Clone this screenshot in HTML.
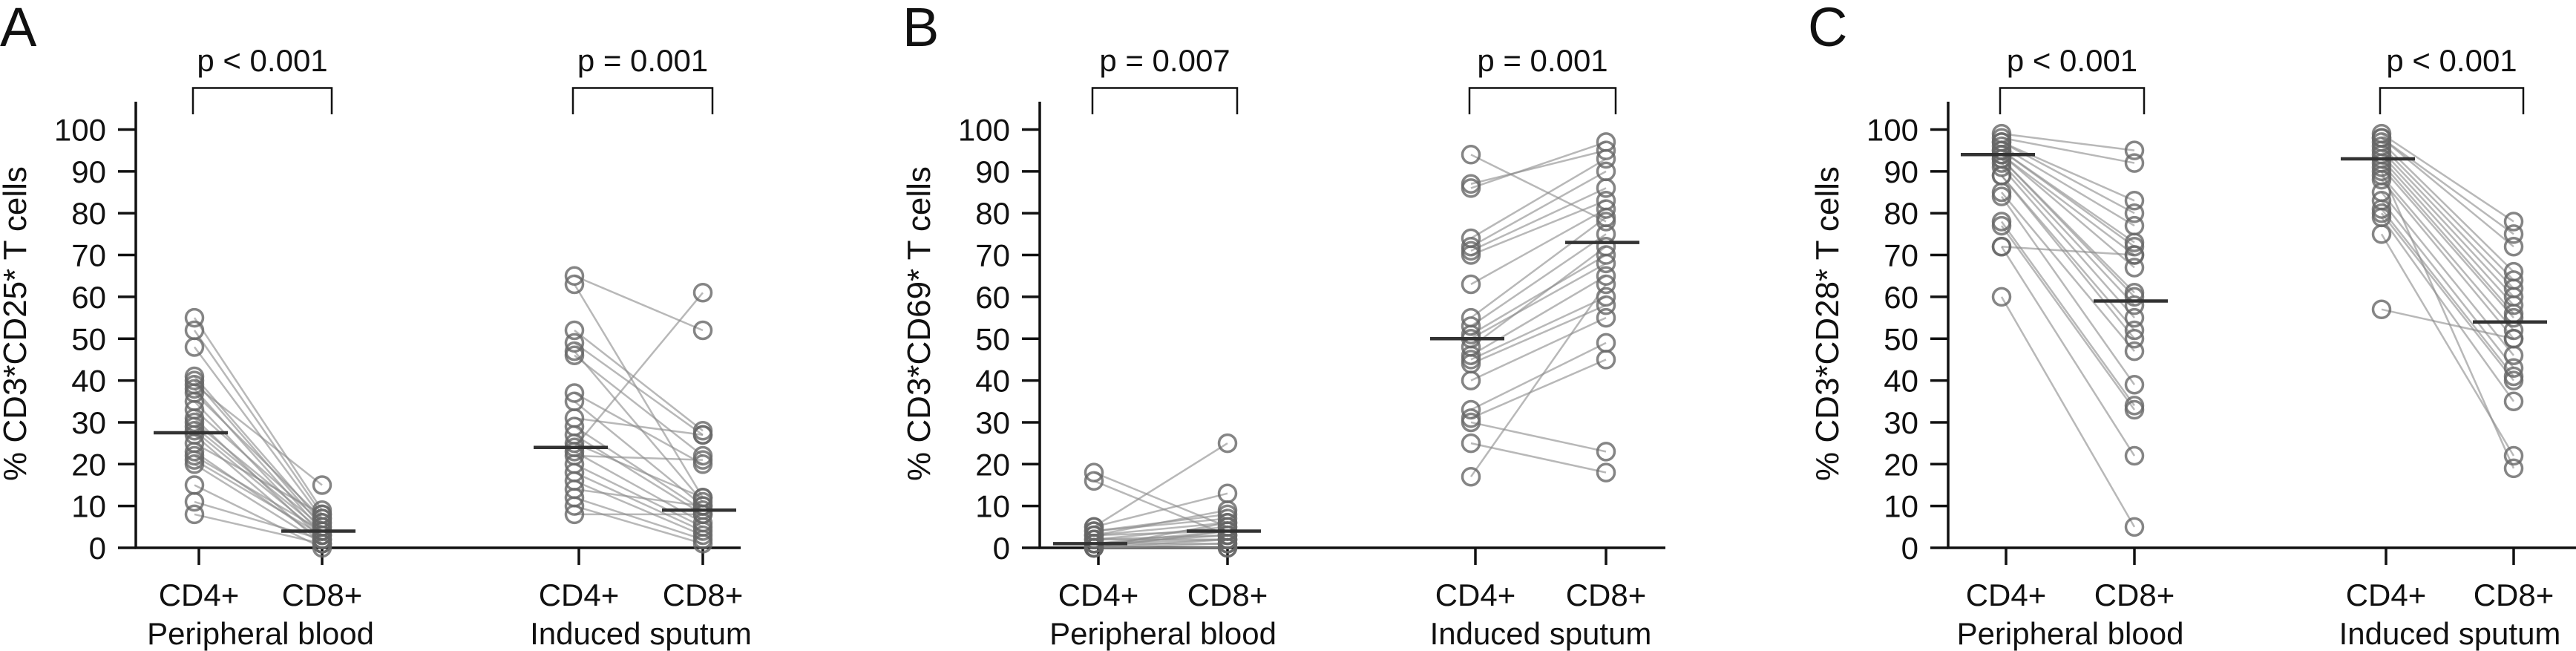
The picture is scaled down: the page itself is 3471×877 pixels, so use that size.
<!DOCTYPE html>
<html><head><meta charset="utf-8"><style>
html,body{margin:0;padding:0;background:#fff;width:3471px;height:877px;overflow:hidden}
svg{display:block}
text{font-family:"Liberation Sans",sans-serif;fill:#111}
</style></head><body>
<svg id="fig" width="3471" height="877" viewBox="0 0 3471 877" xmlns="http://www.w3.org/2000/svg"></svg>
<script>
const yTicks = [0,10,20,30,40,50,60,70,80,90,100];
const catLabels = ["CD4+","CD8+","CD4+","CD8+"];
const groupLabels = ["Peripheral blood","Induced sputum"];
const panelLetters = ["A","B","C"];
const yTitles = ["% CD3*CD25* T cells","% CD3*CD69* T cells","% CD3*CD28* T cells"];
const pLabels = [["p < 0.001","p = 0.001"],["p = 0.007","p = 0.001"],["p < 0.001","p < 0.001"]];

const A_PB_cd4 = [55,52,48,41,40,39,38,37,35,33,31,30,29,28,27,25,23,22,21,20,15,11,8];
const A_PB_cd8 = [9,8,7,6,5,15,4,7,3,6,2,5,4,3,1,8,2,4,3,1,0,2,1];
const A_IS_cd4 = [65,63,52,49,47,46,37,35,31,29,27,25,24,23,22,20,18,16,14,12,10,8];
const A_IS_cd8 = [52,12,28,27,11,22,20,10,27,9,8,12,61,6,21,5,4,3,10,2,1,8];
const B_PB_cd4 = [18,16,5,5,4,4,3,3,3,2,2,2,1,1,1,1,0,0,0,0,0,0];
const B_PB_cd8 = [5,3,25,13,8,7,9,6,4,5,3,2,4,1,2,3,1,0,2,4,6,0];
const B_IS_cd4 = [94,87,86,74,72,71,70,63,55,53,51,50,48,46,45,44,40,33,31,30,25,17];
const B_IS_cd8 = [78,95,97,93,90,86,83,81,79,75,70,68,72,65,60,58,55,49,45,23,18,63];
const C_PB_cd4 = [99,98,97,97,96,95,95,94,94,93,93,92,91,89,89,85,84,78,77,72,72,60];
const C_PB_cd8 = [95,92,83,80,77,73,72,70,67,61,60,58,55,52,50,47,39,34,33,22,70,5];
const C_IS_cd4 = [99,98,98,97,96,95,94,93,92,91,89,88,85,83,81,80,79,75,57,90];
const C_IS_cd8 = [78,75,72,66,64,62,60,58,56,55,52,50,46,43,41,40,35,22,50,19];
const medians = [[27.5,4,24,9],[1,4,50,73],[94,59,93,54]];

const panelData = [[[A_PB_cd4,A_PB_cd8],[A_IS_cd4,A_IS_cd8]],[[B_PB_cd4,B_PB_cd8],[B_IS_cd4,B_IS_cd8]],[[C_PB_cd4,C_PB_cd8],[C_IS_cd4,C_IS_cd8]]];
const layout = [
 {ax:183, xEnd:998, ticks:[268,434,780,947], letterX:0, titleX:20},
 {ax:1401, xEnd:2244, ticks:[1480,1654,1988,2164], letterX:1216, titleX:1238},
 {ax:2625, xEnd:3471, ticks:[2703,2876,3215,3387], letterX:2436, titleX:2462}
];
const Y0 = 738, Y100 = 174.5;
function yScale(v){ return Y0 + (Y100 - Y0) * v / 100; }
const NS = "http://www.w3.org/2000/svg";
const svg = document.getElementById('fig');
function mk(tag, attrs, parent){ const e=document.createElementNS(NS,tag); for(const k in attrs) e.setAttribute(k,attrs[k]); (parent||svg).appendChild(e); return e; }

layout.forEach((L,pi)=>{
  const g = mk('g',{});
  
  
  const letter = mk('text',{x:L.letterX,y:62,'font-size':74},g); letter.textContent = panelLetters[pi];
  
  
  const yax = mk('line',{x1:L.ax,y1:137,x2:L.ax,y2:Y0+1.5,stroke:'#111','stroke-width':3.5},g);
  
  
  yTicks.forEach(t=>{
    const y=yScale(t);
    mk('line',{x1:L.ax-24,y1:y,x2:L.ax,y2:y,stroke:'#111','stroke-width':3.5},g);
    const tl = mk('text',{x:L.ax-40,y:y+15,'font-size':42,'text-anchor':'end'},g); tl.textContent=t;
    
    
  });
  const xax = mk('line',{x1:L.ax-1.5,y1:Y0,x2:L.xEnd,y2:Y0,stroke:'#111','stroke-width':3.5},g);
  
  
  L.ticks.forEach((tx,i)=>{
    mk('line',{x1:tx,y1:Y0,x2:tx,y2:761,stroke:'#111','stroke-width':3.5},g);
    const cl = mk('text',{x:tx,y:816,'font-size':42,'text-anchor':'middle'},g); cl.textContent=catLabels[i];
    
    
  });
  [0,1].forEach(gi=>{
    const cx=(L.ticks[gi*2]+L.ticks[gi*2+1])/2;
    const gl = mk('text',{x:cx,y:868,'font-size':42,'text-anchor':'middle'},g); gl.textContent=groupLabels[gi];
    
    
    const x1=L.ticks[gi*2]-8, x2=L.ticks[gi*2+1]+13;
    const br = mk('path',{d:`M${x1},154 V118.5 H${x2} V154`,fill:'none',stroke:'#111','stroke-width':2.5},g);
    
    
    const pt = mk('text',{x:(x1+x2)/2,y:96,'font-size':42,'text-anchor':'middle'},g); pt.textContent=pLabels[pi][gi];
    
    
    const [a,b]=panelData[pi][gi];
    const xa=L.ticks[gi*2]-6, xb=L.ticks[gi*2+1];
    for(let k=0;k<a.length;k++){
      const ln = mk('line',{x1:xa,y1:yScale(a[k]),x2:xb,y2:yScale(b[k]),stroke:'#888','stroke-width':2.5,'stroke-opacity':0.6},g);
      
      
    }
    for(let k=0;k<a.length;k++){
      const c1 = mk('circle',{cx:xa,cy:yScale(a[k]),r:11.5,fill:'none',stroke:'#666','stroke-width':3.5,'stroke-opacity':0.8},g);
      
      
      const c2 = mk('circle',{cx:xb,cy:yScale(b[k]),r:11.5,fill:'none',stroke:'#666','stroke-width':3.5,'stroke-opacity':0.8},g);
      
      
    }
    [0,1].forEach(j=>{
      const tx=L.ticks[gi*2+j]-(j?0:6);
      const m = mk('line',{x1:tx-55,y1:yScale(medians[pi][gi*2+j]),x2:tx+45,y2:yScale(medians[pi][gi*2+j]),stroke:'#333','stroke-width':4.5},g);
      
      
    });
  });
  const yt = mk('text',{x:0,y:0,'font-size':44,'text-anchor':'middle',transform:`translate(${L.titleX+15},${436}) rotate(-90)`},g);
  yt.textContent = yTitles[pi];
  
  
});
</script>
</body></html>
